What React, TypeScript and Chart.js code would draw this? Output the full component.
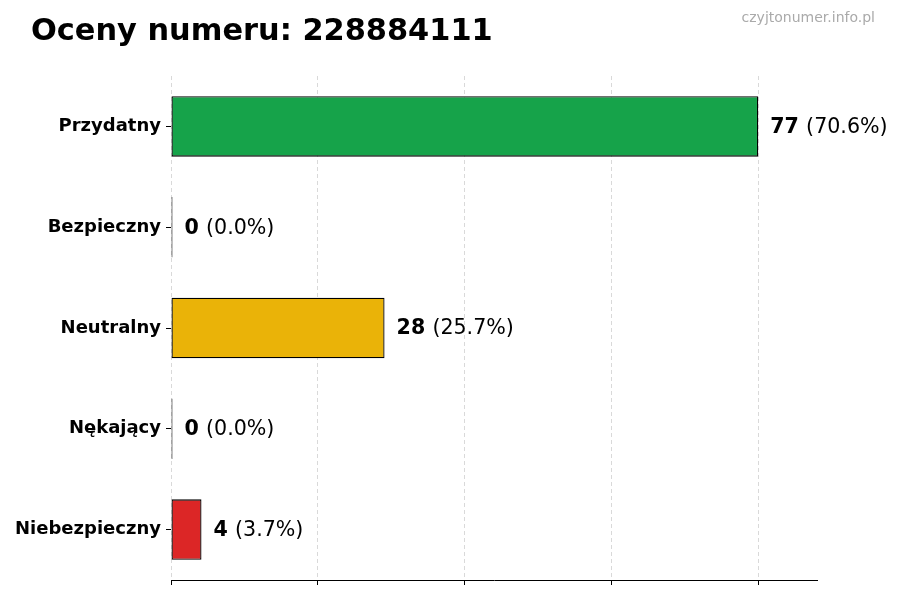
import { useEffect, useRef } from 'react'
import { Chart, registerables } from 'chart.js'

Chart.register(...registerables)

const categories = ['Przydatny', 'Bezpieczny', 'Neutralny', 'Nękający', 'Niebezpieczny']
const counts = [77, 0, 28, 0, 4]
const barColors = ['#16a34a', '#15803d', '#eab308', '#f97316', '#dc2626']
const xTicks = [0, 19.25, 38.5, 57.75, 77]
const title = 'Oceny numeru: 228884111'
const watermark = 'czyjtonumer.info.pl'

const FONT = '"DejaVu Sans", sans-serif'

const labelsPlugin = {
  id: 'valueLabels',
  afterDatasetsDraw(chart: any) {
    const { ctx } = chart
    const meta = chart.getDatasetMeta(0)
    const total = counts.reduce((a, b) => a + b, 0)
    ctx.save()
    ctx.textBaseline = 'middle'
    ctx.fillStyle = '#000'
    meta.data.forEach((bar: any, i: number) => {
      const v = counts[i]
      const pct = total ? ((v / total) * 100).toFixed(1) : '0.0'
      const x = bar.x + 12
      const y = bar.y + 1
      ctx.font = `bold 20.6px ${FONT}`
      const s1 = String(v)
      ctx.fillText(s1, x, y)
      const w = ctx.measureText(s1 + ' ').width
      ctx.font = `20.6px ${FONT}`
      ctx.fillText(`(${pct}%)`, x + w, y)
    })
    ctx.restore()
  },
  afterDraw(chart: any) {
    const { ctx } = chart
    ctx.save()
    ctx.fillStyle = '#000'
    ctx.textBaseline = 'alphabetic'
    ctx.textAlign = 'left'
    ctx.font = `bold 30.4px ${FONT}`
    ctx.fillText(title, 31, 40)
    ctx.fillStyle = '#aaaaaa'
    ctx.textAlign = 'right'
    ctx.font = `14px ${FONT}`
    ctx.fillText(watermark, 875, 22)
    ctx.restore()
  }
}

export default function App() {
  const ref = useRef<HTMLCanvasElement>(null)
  useEffect(() => {
    document.body.style.margin = '0'
    if (!ref.current) return
    const chart = new Chart(ref.current, {
      type: 'bar',
      data: {
        labels: categories,
        datasets: [{
          data: counts,
          backgroundColor: barColors,
          borderColor: '#000',
          borderWidth: 1.3,
          borderSkipped: false,
          minBarLength: 1.5,
          barPercentage: 0.6,
          categoryPercentage: 1
        }]
      },
      options: {
        indexAxis: 'y',
        animation: false,
        responsive: false,
        layout: { padding: { top: 76, right: 83, left: 0, bottom: 0 } },
        plugins: { legend: { display: false }, tooltip: { enabled: false } },
        scales: {
          x: {
            type: 'linear',
            min: 0,
            max: 84.7,
            afterBuildTicks: (s: any) => { s.ticks = xTicks.map(v => ({ value: v })) },
            afterFit: (s: any) => { s.height = 20 },
            ticks: { display: false },
            grid: { color: '#d9d9d9', tickColor: '#000', tickLength: 5, tickBorderDash: [] },
            border: { display: true, color: '#000', width: 1, dash: [4, 3] }
          },
          y: {
            afterFit: (s: any) => { s.width = 171 },
            ticks: { color: '#000', font: { family: FONT, size: 18, weight: 'bold' }, padding: 5 },
            grid: { offset: false, drawOnChartArea: false, drawTicks: true, tickLength: 5, color: '#000' },
            border: { display: false }
          }
        }
      },
      plugins: [labelsPlugin]
    })
    return () => chart.destroy()
  }, [])
  return (
    <div style={{ width: 900, height: 600, background: '#fff' }}>
      <canvas ref={ref} width={900} height={600} />
    </div>
  )
}
